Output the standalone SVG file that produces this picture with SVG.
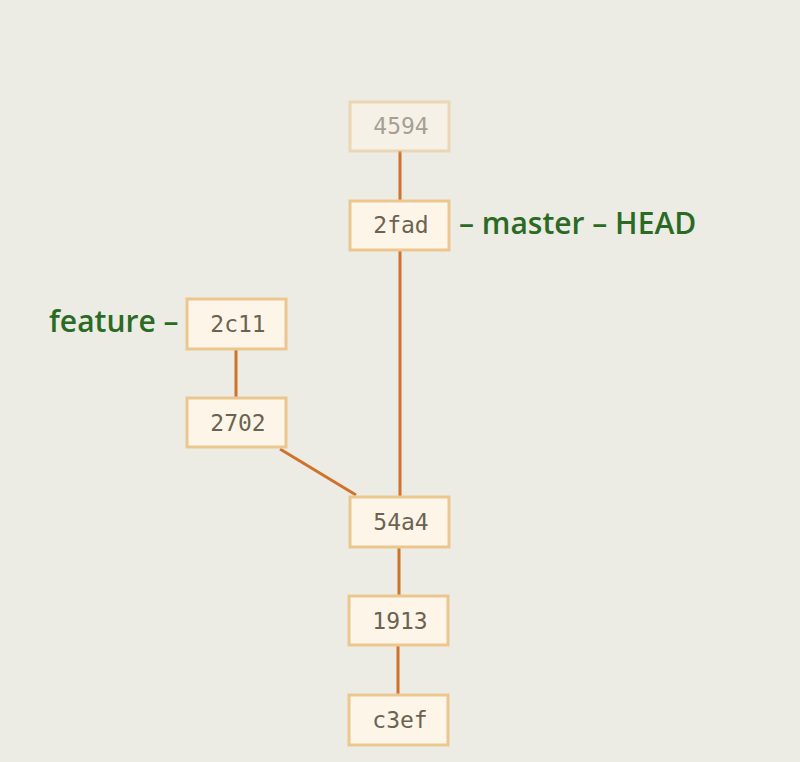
<svg xmlns="http://www.w3.org/2000/svg" width="800" height="762" viewBox="0 0 800 762">
<style>
.bg{fill:#ecece4}
.box{fill:#fdf6e8;stroke:#ebc78f;stroke-width:3}
.t{font-family:"DejaVu Sans Mono","Liberation Mono",monospace;font-size:23px;fill:#6b6352;text-anchor:middle}
.lbl{font-family:"Open Sans","Noto Sans",sans-serif;font-weight:600;font-size:30px;fill:#2b6a25}
.edge{stroke:#cf732b;stroke-width:3;fill:none}
</style>
<rect class="bg" x="0" y="0" width="800" height="762"/>
<g id="connectors">
<line class="edge" x1="400" y1="151" x2="400" y2="200"/>
<line class="edge" x1="400" y1="250" x2="400" y2="496"/>
<line class="edge" x1="236" y1="349" x2="236" y2="397"/>
<line class="edge" x1="280" y1="449" x2="356" y2="495"/>
<line class="edge" x1="399" y1="547" x2="399" y2="595"/>
<line class="edge" x1="398" y1="645" x2="398" y2="694"/>
</g>
<g id="n4594" opacity="0.55">
<rect class="box" x="350" y="102" width="99" height="49"/>
<text class="t" x="401" y="134">4594</text>
</g>
<g id="n2fad">
<rect class="box" x="350" y="201" width="99" height="49"/>
<text class="t" x="401" y="233">2fad</text>
</g>
<g id="n2c11">
<rect class="box" x="187" y="299" width="99" height="50"/>
<text class="t" x="238" y="332">2c11</text>
</g>
<g id="n2702">
<rect class="box" x="187" y="398" width="99" height="49"/>
<text class="t" x="238" y="431">2702</text>
</g>
<g id="n54a4">
<rect class="box" x="350" y="497" width="99" height="50"/>
<text class="t" x="401" y="530">54a4</text>
</g>
<g id="n1913">
<rect class="box" x="349" y="596" width="99" height="49"/>
<text class="t" x="400" y="629">1913</text>
</g>
<g id="nc3ef">
<rect class="box" x="349" y="695" width="99" height="50"/>
<text class="t" x="400" y="728">c3ef</text>
</g>
<g id="labels">
<text class="lbl" x="459" y="234">– master – HEAD</text>
<text class="lbl" x="49" y="332">feature –</text>
</g>
</svg>
